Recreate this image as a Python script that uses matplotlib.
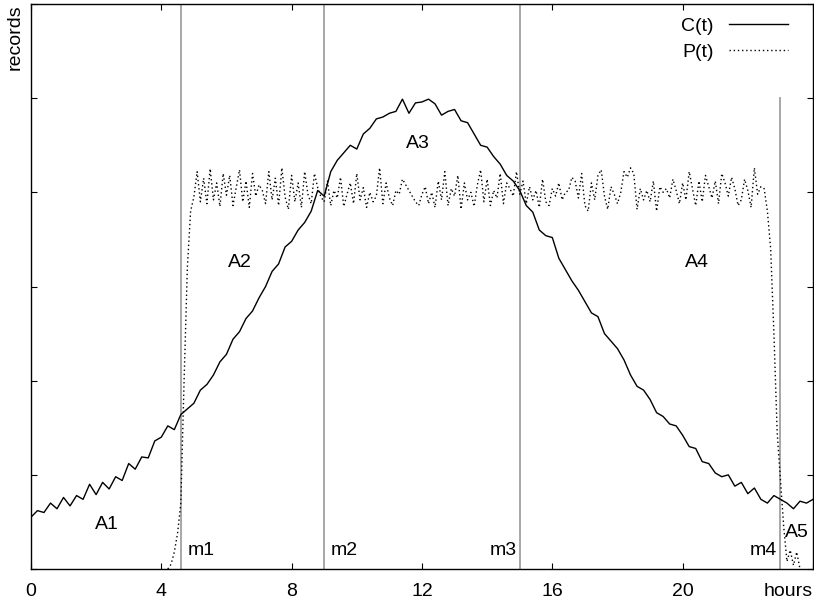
import numpy as np
import matplotlib
matplotlib.use("Agg")
import matplotlib.pyplot as plt

plt.rcParams['font.family'] = ['Liberation Sans', 'DejaVu Sans']

c_hours = np.arange(0, 24.01, 0.2)
c_vals = [0.55, 0.62, 0.60, 0.70, 0.64, 0.76, 0.67, 0.78, 0.74, 0.90,
          0.79, 0.92, 0.85, 0.98, 0.94, 1.12, 1.06, 1.19, 1.18, 1.36,
          1.40, 1.52, 1.48, 1.64, 1.70, 1.76, 1.90, 1.96, 2.06, 2.20,
          2.28, 2.44, 2.52, 2.66, 2.74, 2.88, 3.00, 3.16, 3.24, 3.42,
          3.48, 3.60, 3.68, 3.80, 4.02, 3.96, 4.22, 4.34, 4.42, 4.50,
          4.46, 4.62, 4.68, 4.78, 4.80, 4.84, 4.86, 4.99, 4.84, 4.95,
          4.96, 4.99, 4.94, 4.82, 4.86, 4.88, 4.76, 4.74, 4.62, 4.50,
          4.48, 4.38, 4.30, 4.18, 4.12, 4.02, 3.86, 3.79, 3.60, 3.54,
          3.52, 3.30, 3.18, 3.06, 2.96, 2.84, 2.72, 2.68, 2.50, 2.42,
          2.34, 2.22, 2.06, 1.94, 1.90, 1.80, 1.66, 1.62, 1.54, 1.52,
          1.42, 1.30, 1.28, 1.14, 1.12, 1.02, 0.98, 1.00, 0.88, 0.92,
          0.80, 0.86, 0.74, 0.70, 0.78, 0.74, 0.70, 0.64, 0.72, 0.70,
          0.74]

# P(t): sampled every 0.1 h from 4.2 h to 23.6 h, one row per hour
p_hours = np.arange(4.2, 23.61, 0.1)
p_vals = [0, 0.05, 0.18, 0.38, 0.70, 2.00, 3.20, 3.80,
          3.95, 4.22, 3.90, 4.15, 3.88, 4.25, 3.92, 4.10, 3.85, 4.20,
          3.97, 4.18, 3.86, 4.05, 4.24, 3.90, 4.12, 3.84, 4.20, 3.96,
          4.08, 4.02, 3.88, 4.22, 3.92, 4.15, 3.86, 4.26, 3.95, 3.82,
          4.18, 3.90, 4.10, 3.84, 4.22, 3.98, 3.88, 4.20, 4.05, 3.95,
          3.90, 4.12, 3.86, 4.02, 3.94, 4.16, 3.85, 3.98, 4.10, 3.88,
          4.20, 3.92, 4.05, 3.84, 4.00, 3.90, 3.96, 4.26, 3.88, 4.10,
          3.94, 3.86, 4.02, 3.98, 4.14, 4.08, 4.02, 3.96, 3.90, 3.86,
          3.98, 4.06, 3.88, 4.00, 3.84, 4.12, 3.92, 4.22, 3.86, 4.04,
          3.96, 4.18, 3.82, 4.10, 3.92, 4.00, 3.85, 4.08, 4.24, 3.90,
          4.14, 3.86, 4.02, 3.94, 4.20, 3.88, 4.10, 4.04, 3.96, 4.22,
          3.98, 4.12, 3.88, 4.06, 3.92, 4.02, 3.84, 4.14, 3.90, 3.86,
          4.04, 3.96, 4.10, 3.92, 4.00, 4.02, 4.16, 4.12, 3.94, 4.20,
          3.86, 3.80, 4.10, 3.92, 4.18, 4.24, 3.96, 3.82, 4.06, 3.98,
          3.88, 4.00, 4.22, 4.16, 4.26, 4.20, 3.82, 4.04, 3.92, 4.02,
          3.90, 4.12, 3.80, 4.06, 4.00, 4.04, 3.94, 4.14, 4.02, 3.88,
          4.10, 3.92, 4.22, 4.04, 3.86, 4.12, 3.90, 4.18, 4.06, 3.94,
          4.12, 3.88, 4.20, 4.10, 3.96, 4.16, 4.04, 3.86, 3.92, 4.14,
          4.02, 3.84, 4.26, 3.98, 4.06, 4.04, 3.80, 3.40, 2.50, 1.45,
          0.95, 0.45, 0.08, 0.20, 0.04, 0.18, 0]

# markers m1..m4 and their heights
mark_names = ['m1', 'm2', 'm3', 'm4']
mark_hours = [4.62, 9.0, 15.0, 23.0]
mark_tops = [6, 6, 6, 5]

area_names = ['A1', 'A2', 'A3', 'A4', 'A5']
area_pos = [(2.33, 0.47), (6.41, 3.26), (11.87, 4.52), (20.43, 3.26), (23.5, 0.39)]

fig = plt.figure(figsize=(8.14, 6.10), dpi=100)
ax = fig.add_axes([0.038, 0.0672, 0.9608, 0.9262])

for h, top in zip(mark_hours, mark_tops):
    ax.plot([h, h], [0, top], color='#a0a0a0', lw=1.3, zorder=1)

ax.plot(c_hours, c_vals, color='black', lw=1.0, label='C(t)')
ax.plot(p_hours, p_vals, color='black', lw=1.0, ls=(0, (1, 2)), label='P(t)')

fs = 14
ax.text(mark_hours[0] + 0.2, 0.2, 'm1', fontsize=fs, ha='left', va='center')
ax.text(mark_hours[1] + 0.2, 0.2, 'm2', fontsize=fs, ha='left', va='center')
ax.text(mark_hours[2] - 0.1, 0.2, 'm3', fontsize=fs, ha='right', va='center')
ax.text(mark_hours[3] - 0.1, 0.2, 'm4', fontsize=fs, ha='right', va='center')
for name, (x, y) in zip(area_names, area_pos):
    ax.text(x, y, name, fontsize=fs, ha='center', va='center')

ax.set_xlim(0, 24)
ax.set_ylim(0, 6)
ax.set_xticks([0, 4, 8, 12, 16, 20, 24])
ax.set_xticklabels(['0', '4', '8', '12', '16', '20', ''])
ax.set_yticks([0, 1, 2, 3, 4, 5, 6])
ax.set_yticklabels([])
ax.tick_params(direction='in', length=4, top=True, right=True,
               labelsize=fs, pad=10)
for s in ax.spines.values():
    s.set_linewidth(1.0)

ax.text(1.0, -0.04, 'hours', transform=ax.transAxes, fontsize=fs,
        ha='right', va='center')
ax.text(-0.02, 1.0, 'records', transform=ax.transAxes, fontsize=fs,
        rotation=90, ha='center', va='top')

ax.legend(loc='upper right', frameon=False, markerfirst=False,
          fontsize=fs, handlelength=3.0, labelspacing=0.4,
          borderaxespad=0.3, bbox_to_anchor=(0.985, 1.0))

fig.savefig('out.png', dpi=100)
